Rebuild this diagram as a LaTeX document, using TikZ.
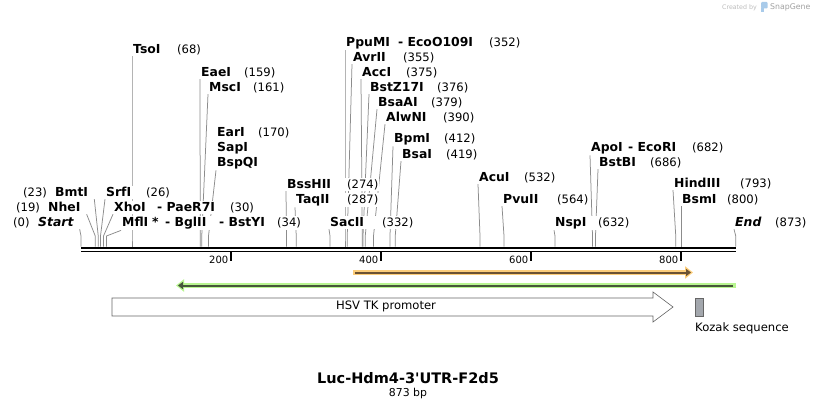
\documentclass[tikz,border=0pt]{standalone}
\usepackage{fontspec}
\setmainfont{DejaVu Sans}
\usetikzlibrary{arrows.meta,backgrounds}
\definecolor{cutgray}{HTML}{8C8C8C}
\definecolor{orgband}{HTML}{FCCD7A}
\definecolor{orgline}{HTML}{6B5233}
\definecolor{grnband}{HTML}{B8F590}
\definecolor{grnline}{HTML}{46573A}
\definecolor{kozak}{HTML}{A3A7AD}
\definecolor{logogray}{HTML}{BDBDBD}
\definecolor{logoblue}{HTML}{A9CBEA}
\newcommand{\enzname}[1]{{\fontsize{12.4}{13}\selectfont\bfseries #1}}
\newcommand{\enzlab}[3]{\makebox[#1pt][l]{\enzname{#2}}(#3)}
\tikzset{
  enz/.style={anchor=base west,fill=white,inner xsep=1pt,inner ysep=1pt,
              font=\fontsize{11.6}{13}\selectfont},
  cut/.style={draw=cutgray,line width=.75pt},
  tck/.style={anchor=east,inner sep=0pt,font=\fontsize{10}{12}\selectfont},
  feat/.style={inner sep=0pt,font=\fontsize{11.6}{13}\selectfont},
  band/.style={line width=5.5pt},
  core/.style={line width=2pt},
}
\begin{document}
\begin{tikzpicture}[x=1pt,y=-1pt]
  \useasboundingbox (0,0) rectangle (818,409);
  % enzyme labels
  \node[enz] (tso)  at (132,53.5)  {\enzlab{44}{TsoI}{68}};
  \node[enz] (ppu)  at (345,46.5)  {\enzlab{143}{\makebox[52pt][l]{PpuMI}- EcoO109I}{352}};
  \node[enz] (avr)  at (352,61.5)  {\enzlab{50}{AvrII}{355}};
  \node[enz] (eae)  at (200,76.5)  {\enzlab{43}{EaeI}{159}};
  \node[enz] (acc)  at (361,76.5)  {\enzlab{44}{AccI}{375}};
  \node[enz] (msc)  at (208,91.5)  {\enzlab{44}{MscI}{161}};
  \node[enz] (bstz) at (369,91.5)  {\enzlab{67}{BstZ17I}{376}};
  \node[enz] (bsaa) at (377,106.5) {\enzlab{53}{BsaAI}{379}};
  \node[enz] (alw)  at (385,121.5) {\enzlab{57}{AlwNI}{390}};
  \node[enz] (ear)  at (216,136.5) {\enzlab{41}{EarI}{170}};
  \node[enz] (bpm)  at (393,142.5) {\enzlab{50}{BpmI}{412}};
  \node[enz] (sap)  at (216,151.5) {\enzname{SapI}};
  \node[enz] (apo)  at (590,151.5) {\enzlab{101}{\makebox[37pt][l]{ApoI}- EcoRI}{682}};
  \node[enz] (bsa)  at (401,158.5) {\enzlab{44}{BsaI}{419}};
  \node[enz] (bsp)  at (216,166.5) {\enzname{BspQI}};
  \node[enz] (bstb) at (598,166.5) {\enzlab{51}{BstBI}{686}};
  \node[enz] (acu)  at (478,181.5) {\enzlab{45}{AcuI}{532}};
  \node[enz] (hind) at (673,187.5) {\enzlab{66}{HindIII}{793}};
  \node[enz] (bss)  at (286,188.5) {\enzlab{60}{BssHII}{274}};
  \node[enz] (srf)  at (105,196.5) {\enzlab{40}{SrfI}{26}};
  \node[enz] (bmt)  at (22,196.5)  {\makebox[32pt][l]{(23)}\enzname{BmtI}};
  \node[enz] (taq)  at (295,203.5) {\enzlab{51}{TaqII}{287}};
  \node[enz] (pvu)  at (502,203.5) {\enzlab{54}{PvuII}{564}};
  \node[enz] (bsm)  at (681,203.5) {\enzlab{45}{BsmI}{800}};
  \node[enz] (nhe)  at (15,211.5)  {\makebox[32pt][l]{(19)}\enzname{NheI}};
  \node[enz] (xho)  at (113,211.5) {\enzlab{116}{\makebox[43pt][l]{XhoI}- PaeR7I}{30}};
  \node[enz] (st)   at (12,226.5)  {\makebox[25pt][l]{(0)}\enzname{\itshape Start}};
  \node[enz] (mfl)  at (121,226.5) {\enzlab{155}{\makebox[30pt][l]{MflI}\makebox[13pt][l]{*}\makebox[54pt][l]{- BglII}- BstYI}{34}};
  \node[enz] (sac)  at (329,226.5) {\enzlab{52}{SacII}{332}};
  \node[enz] (nsp)  at (554,226.5) {\enzlab{43}{NspI}{632}};
  \node[enz] (en)   at (734,226.5) {\enzlab{40}{\itshape End}{873}};
  % cut sites on the backbone
  \foreach \n/\bp in {st/0,nhe/19,bmt/23,srf/26,xho/30,mfl/34,tso/68,eae/159,msc/161,
      bsp/170,bss/274,taq/287,sac/332,ppu/352,avr/355,acc/375,bstz/376,bsaa/379,
      alw/390,bpm/412,bsa/419,acu/532,pvu/564,nsp/632,apo/682,bstb/686,hind/793,
      bsm/800,en/873}{
    \coordinate (c\n) at ({81+.75*\bp},246.5);
    \coordinate (b\n) at ({81+.75*\bp},236);
  }
  \begin{scope}[on background layer]
    \fill[white] (0,0) rectangle (818,409);
    \foreach \n in {srf,xho,mfl,tso,eae,msc,bsp,bss,taq,sac,ppu,avr,acc,bstz,bsaa,
        alw,bpm,bsa,acu,pvu,nsp,apo,bstb,hind,bsm,en}
      \draw[cut] (\n.south west) -- (b\n) -- (c\n);
    \foreach \n in {st,nhe,bmt}
      \draw[cut] ([xshift=5pt]\n.south east) -- (b\n) -- (c\n);
  \end{scope}
  % backbone and ruler
  \draw[line width=2.8pt] (81,247.9) -- (736,247.9);
  \draw[line width=1.6pt] (81,251.3) -- (736,251.3);
  \foreach \t in {200,400,600,800}{
    \draw[line width=1.5pt] ({81+.75*\t},252) -- ({81+.75*\t},261);
    \node[tck] (r\t) at ({81+.75*\t-2.5},259.5) {\t};
  }
  % primers
  \draw[band,orgband,-{Triangle[length=8pt,width=12pt]}] (353,272.5) -- (693,272.5);
  \draw[core,orgline,-{Triangle[length=5pt,width=7pt]}] (355,272.5) -- (691,272.5);
  \draw[band,grnband,-{Triangle[length=8pt,width=12pt]}] (736,285.5) -- (176,285.5);
  \draw[core,grnline,-{Triangle[length=5pt,width=7pt]}] (733,285.5) -- (178,285.5);
  % features
  \draw[draw=black!60,fill=white,line width=.6pt]
    (112,298) -- (653,298) -- (653,292) -- (673,307) -- (653,322) -- (653,316)
    -- (112,316) -- cycle;
  \node[feat] (hsv) at (386,306) {HSV TK promoter};
  \draw[draw=black!60,fill=kozak,line width=.6pt] (695,298) rectangle (703.5,316);
  \node[feat,anchor=west] (koz) at (695,328) {Kozak sequence};
  % title
  \node[inner sep=0pt,font=\fontsize{14.5}{16}\selectfont\bfseries] (title) at (408,378)
    {Luc-Hdm4-3\textquotesingle UTR-F2d5};
  \node[inner sep=0pt,font=\fontsize{10.9}{12}\selectfont] (len) at (408,393) {873 bp};
  % logo
  \node[anchor=east,inner sep=0pt,text=logogray,font=\fontsize{6.3}{7}\selectfont]
    (made) at (757,7.5) {Created by};
  \fill[logoblue,rounded corners=1pt] (761,2) rectangle (767.5,8.5);
  \fill[logoblue] (761,8) rectangle (763.5,12.5);
  \node[anchor=west,inner sep=0pt,text=logogray!85!black,font=\fontsize{7.8}{9}\selectfont]
    (snap) at (770,7.5) {SnapGene};
\end{tikzpicture}
\end{document}
